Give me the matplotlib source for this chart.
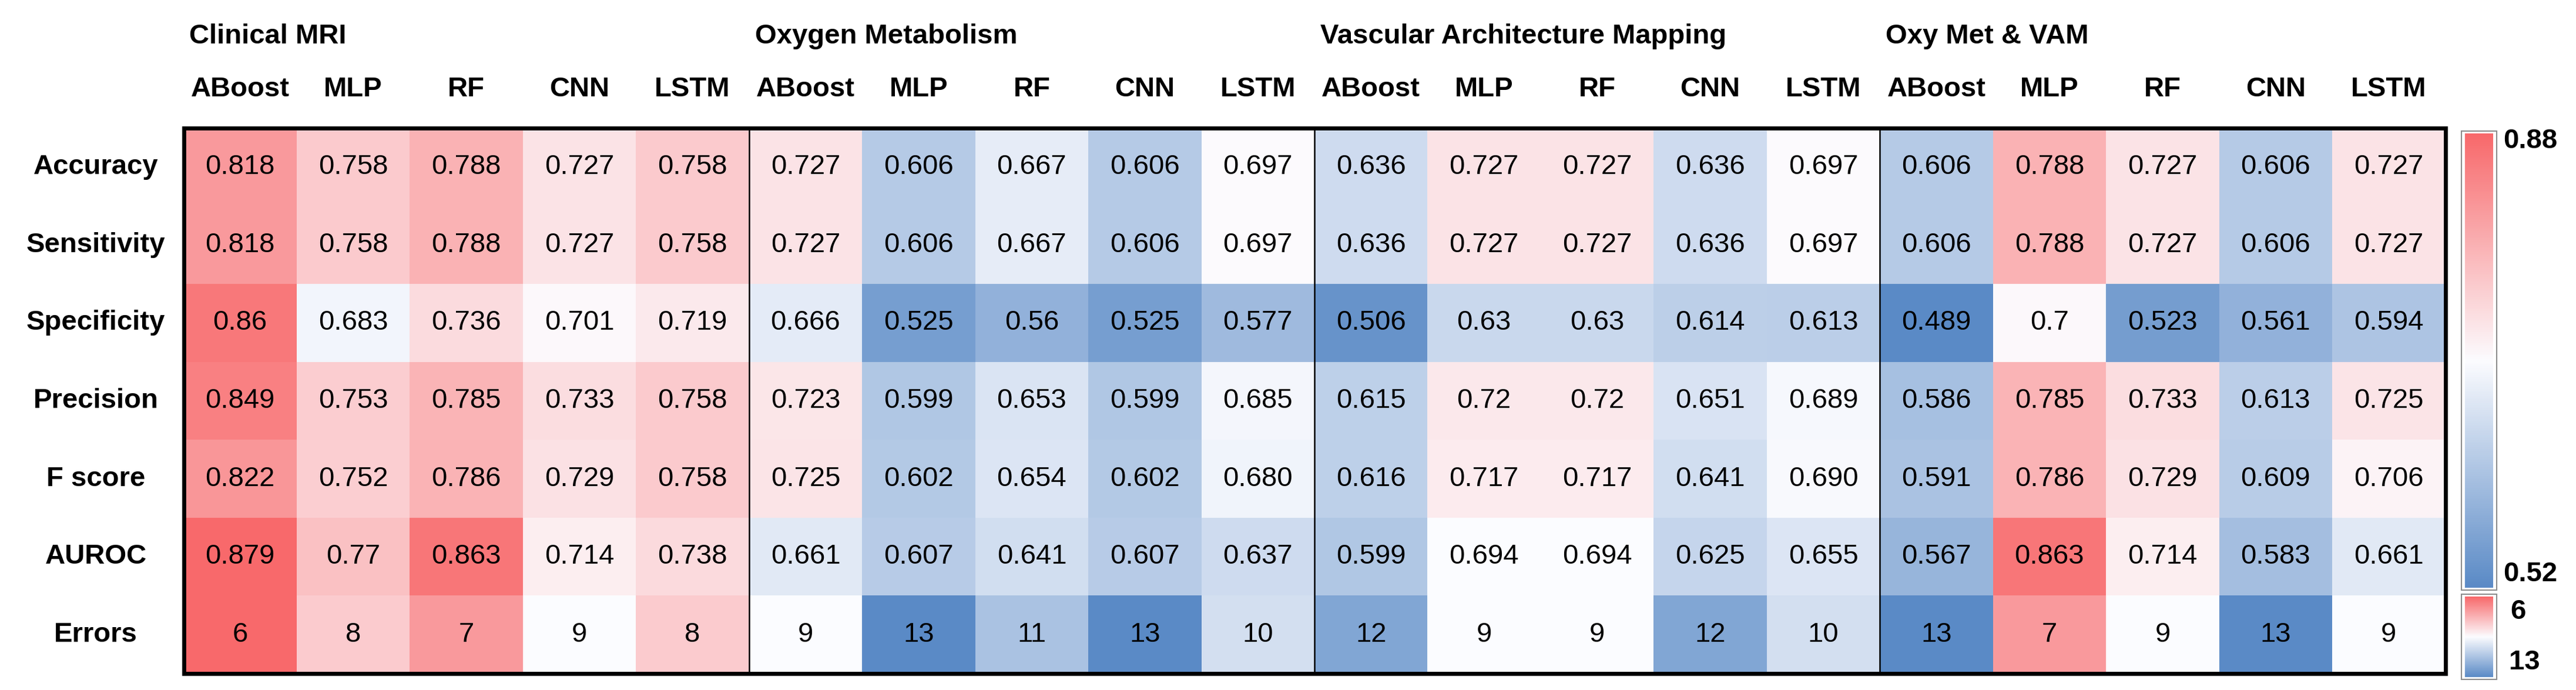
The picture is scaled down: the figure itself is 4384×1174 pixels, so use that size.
"""Heatmap of classifier metrics per feature set (Excel-style red-white-blue scale)."""

import matplotlib
matplotlib.use("Agg")
import matplotlib.pyplot as plt
import numpy as np
from matplotlib.colors import LinearSegmentedColormap, TwoSlopeNorm
from matplotlib.patches import Rectangle

plt.rcParams["font.family"] = ["Liberation Sans", "DejaVu Sans"]

groups = ["Clinical MRI", "Oxygen Metabolism", "Vascular Architecture Mapping", "Oxy Met & VAM"]
models = ["ABoost", "MLP", "RF", "CNN", "LSTM"]
metric_rows = ["Accuracy", "Sensitivity", "Specificity", "Precision", "F score", "AUROC"]

# one list per metric row, 20 columns: 4 groups x 5 models (kept as printed strings)
accuracy = ["0.818", "0.758", "0.788", "0.727", "0.758",
            "0.727", "0.606", "0.667", "0.606", "0.697",
            "0.636", "0.727", "0.727", "0.636", "0.697",
            "0.606", "0.788", "0.727", "0.606", "0.727"]
sensitivity = ["0.818", "0.758", "0.788", "0.727", "0.758",
               "0.727", "0.606", "0.667", "0.606", "0.697",
               "0.636", "0.727", "0.727", "0.636", "0.697",
               "0.606", "0.788", "0.727", "0.606", "0.727"]
specificity = ["0.86", "0.683", "0.736", "0.701", "0.719",
               "0.666", "0.525", "0.56", "0.525", "0.577",
               "0.506", "0.63", "0.63", "0.614", "0.613",
               "0.489", "0.7", "0.523", "0.561", "0.594"]
precision = ["0.849", "0.753", "0.785", "0.733", "0.758",
             "0.723", "0.599", "0.653", "0.599", "0.685",
             "0.615", "0.72", "0.72", "0.651", "0.689",
             "0.586", "0.785", "0.733", "0.613", "0.725"]
f_score = ["0.822", "0.752", "0.786", "0.729", "0.758",
           "0.725", "0.602", "0.654", "0.602", "0.680",
           "0.616", "0.717", "0.717", "0.641", "0.690",
           "0.591", "0.786", "0.729", "0.609", "0.706"]
auroc = ["0.879", "0.77", "0.863", "0.714", "0.738",
         "0.661", "0.607", "0.641", "0.607", "0.637",
         "0.599", "0.694", "0.694", "0.625", "0.655",
         "0.567", "0.863", "0.714", "0.583", "0.661"]
errors = [6, 8, 7, 9, 8,
          9, 13, 11, 13, 10,
          12, 9, 9, 12, 10,
          13, 7, 9, 13, 9]

RED, WHITE, BLUE = "#F8696B", "#FCFCFF", "#5A8AC6"
FS = 34

labels = [accuracy, sensitivity, specificity, precision, f_score, auroc]
metrics = np.array([[float(v) for v in row] for row in labels])
err = np.array(errors, dtype=float)

W, H = 4384, 1174
fig = plt.figure(figsize=(W / 100, H / 100), dpi=100)

def fx(px):
    return px / W

def fy(py):
    return 1 - py / H

x0, x1, y0, y1 = 312.5, 4161.5, 218, 1146
ax = fig.add_axes([fx(x0), fy(y1), fx(x1 - x0), (y1 - y0) / H])

cmap_met = LinearSegmentedColormap.from_list("met", [BLUE, WHITE, RED])
cmap_err = LinearSegmentedColormap.from_list("err", [RED, WHITE, BLUE])
norm_met = TwoSlopeNorm(vmin=metrics.min(), vcenter=np.median(metrics), vmax=metrics.max())
norm_err = TwoSlopeNorm(vmin=err.min(), vcenter=np.median(err), vmax=err.max())

ncol = metrics.shape[1]
xs = np.arange(ncol + 1)
ax.pcolormesh(xs, np.arange(7), metrics, cmap=cmap_met, norm=norm_met)
ax.pcolormesh(xs, [6, 7], err[None, :], cmap=cmap_err, norm=norm_err)
ax.set_xlim(0, ncol)
ax.set_ylim(7, 0)
ax.set_xticks([])
ax.set_yticks([])
for s in ax.spines.values():
    s.set_linewidth(5)
for g in range(1, len(groups)):
    ax.axvline(g * len(models), color="black", lw=1.8)

for i, row in enumerate(labels):
    for j, txt in enumerate(row):
        ax.text(j + 0.5, i + 0.5, txt, ha="center", va="center", fontsize=FS)
for j, v in enumerate(errors):
    ax.text(j + 0.5, 6.5, str(v), ha="center", va="center", fontsize=FS)

# row labels
row_names = metric_rows + ["Errors"]
row_h = (y1 - y0) / 7
for i, name in enumerate(row_names):
    fig.text(fx(163), fy(y0 + (i + 0.5) * row_h), name, ha="center", va="center",
             fontsize=FS, fontweight="bold")

# column and group headers
col_w = (x1 - x0) / ncol
for j in range(ncol):
    fig.text(fx(x0 + (j + 0.5) * col_w), fy(152), models[j % len(models)], ha="center",
             va="center", fontsize=FS, fontweight="bold")
for g, name in enumerate(groups):
    fig.text(fx(x0 + g * len(models) * col_w + 10), fy(62), name, ha="left", va="center",
             fontsize=FS, fontweight="bold")

# colour bars: red on top for both (high metric / few errors)
def colorbar(top, bottom):
    cax = fig.add_axes([fx(4195), fy(bottom), fx(4243 - 4195), (bottom - top) / H])
    grad = np.linspace(1, 0, 256)[:, None]
    cax.imshow(grad, aspect="auto", cmap=cmap_met, extent=[0, 1, 0, 1])
    cax.set_axis_off()
    fig.patches.append(Rectangle((fx(4189), fy(bottom + 4)), fx(60), (bottom - top + 8) / H,
                                 transform=fig.transFigure, fill=False, edgecolor="#8c8c8c",
                                 lw=1.5))

colorbar(227, 1000)
colorbar(1015, 1152)

fig.text(fx(4260), fy(240), "0.88", ha="left", va="center", fontsize=FS, fontweight="bold")
fig.text(fx(4260), fy(977), "0.52", ha="left", va="center", fontsize=FS, fontweight="bold")
fig.text(fx(4272), fy(1041), "6", ha="left", va="center", fontsize=FS, fontweight="bold")
fig.text(fx(4270), fy(1127), "13", ha="left", va="center", fontsize=FS, fontweight="bold")

fig.savefig("out.png", dpi=100)
